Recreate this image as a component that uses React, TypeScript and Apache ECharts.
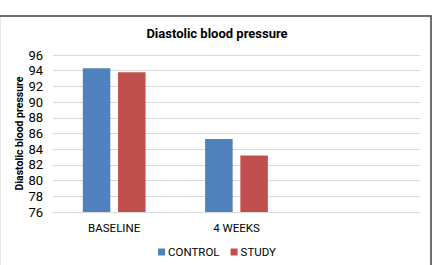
import React, { useEffect, useRef } from "react";
import * as echarts from "echarts";

const categories = ["BASELINE", "4 WEEKS", ""];
const controlValues = [94.3, 85.3, null];
const studyValues = [93.8, 83.2, null];
const seriesNames = ["CONTROL", "STUDY"];
const yTicks = { min: 76, max: 96, interval: 2 };
const titleText = "Diastolic blood pressure";
const yAxisName = "Diastolic blood pressure";

const FONT = "Roboto, 'Open Sans', sans-serif";

export default function App() {
  const ref = useRef<HTMLDivElement>(null);
  useEffect(() => {
    if (!ref.current) return;
    const chart = echarts.init(ref.current, null, { renderer: "svg" });
    chart.setOption({
      animation: false,
      backgroundColor: "#ffffff",
      title: {
        text: titleText,
        left: "center",
        top: 22,
        textStyle: { fontFamily: FONT, fontSize: 13, fontWeight: "bold", color: "#000" },
      },
      legend: {
        data: seriesNames,
        bottom: 2,
        left: "center",
        itemWidth: 7,
        itemHeight: 7,
        itemGap: 11,
        icon: "rect",
        textStyle: { fontFamily: FONT, fontSize: 11.5, color: "#000", padding: [0, 0, 0, -2] },
      },
      grid: { left: 53, right: 14, top: 55, bottom: 53, containLabel: false },
      xAxis: {
        type: "category",
        data: categories,
        axisTick: { show: false },
        axisLine: { show: true, lineStyle: { color: "#d9d9d9", width: 1 } },
        axisLabel: { fontFamily: FONT, fontSize: 11.5, color: "#000", margin: 10 },
      },
      yAxis: {
        type: "value",
        min: yTicks.min,
        max: yTicks.max,
        interval: yTicks.interval,
        name: yAxisName,
        nameLocation: "middle",
        nameGap: 28,
        nameRotate: 90,
        nameMoveOverlap: false,
        nameTextStyle: { fontFamily: FONT, fontSize: 10.5, fontWeight: "bold", color: "#000" },
        axisLine: { show: false },
        axisTick: { show: false },
        axisLabel: { fontFamily: FONT, fontSize: 13, color: "#000", margin: 10 },
        splitLine: { lineStyle: { color: "#d9d9d9", width: 1 } },
      },
      series: [
        {
          name: seriesNames[0],
          type: "bar",
          data: controlValues,
          barWidth: "22.5%",
          barGap: "28%",
          itemStyle: { color: "#4F81BD" },
        },
        {
          name: seriesNames[1],
          type: "bar",
          data: studyValues,
          barWidth: "22.5%",
          itemStyle: { color: "#C0504D" },
        },
      ],
      graphic: [
        {
          type: "polyline",
          shape: { points: [[0, 16], [431, 16], [431, 265]] },
          style: { stroke: "#404040", lineWidth: 1.5, fill: null },
          silent: true,
        },
        {
          type: "line",
          shape: { x1: 0.5, y1: 17, x2: 0.5, y2: 265 },
          style: { stroke: "#e6e6e6", lineWidth: 1 },
          silent: true,
        },
      ],
    });
    return () => chart.dispose();
  }, []);
  return (
    <div
      ref={ref}
      style={{ position: "fixed", left: 0, top: 0, width: 434, height: 265 }}
    />
  );
}
